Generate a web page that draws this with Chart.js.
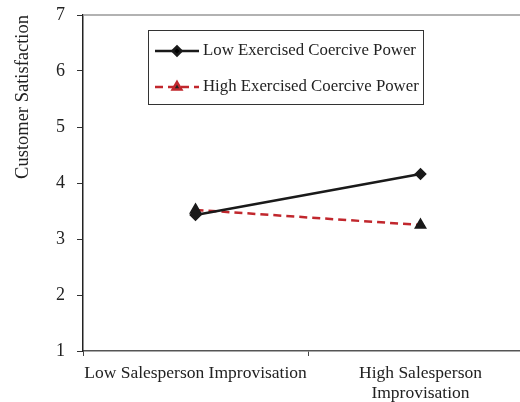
<!DOCTYPE html>
<html>
<head>
<meta charset="utf-8">
<script src="https://cdn.jsdelivr.net/npm/chart.js@4.4.1/dist/chart.umd.min.js"></script>
<style>
  html, body { margin: 0; padding: 0; background: #fff; overflow: hidden; }
  #wrap { width: 520px; height: 402px; overflow: hidden; }
</style>
</head>
<body>
<div id="wrap">
  <canvas id="myChart" width="545" height="402"></canvas>
</div>
<script>
// Data
const categories = ['Low Salesperson Improvisation', ['High Salesperson', 'Improvisation']];
const lowCoercive = [3.43, 4.16];
const highCoercive = [3.52, 3.25];
const seriesNames = ['Low Exercised Coercive Power', 'High Exercised Coercive Power'];
const yMin = 1;
const yMax = 7;

const serif = "'Liberation Serif', 'Times New Roman', serif";

// frame lines (top and right of plot area) + legend box inside the plot
const framePlugin = {
  id: 'frame',
  afterDraw(chart) {
    const ctx = chart.ctx;
    const a = chart.chartArea;
    ctx.save();
    ctx.strokeStyle = '#999';
    ctx.lineWidth = 1.5;
    ctx.beginPath();
    ctx.moveTo(a.left, a.top);
    ctx.lineTo(a.right, a.top);
    ctx.lineTo(a.right, a.bottom);
    ctx.stroke();

    // legend
    const bx = 148, by = 30, bw = 275, bh = 74;
    ctx.strokeStyle = '#333';
    ctx.lineWidth = 1;
    ctx.strokeRect(bx + 0.5, by + 0.5, bw, bh);
    const rows = [51, 87];
    chart.data.datasets.forEach((ds, i) => {
      const y = rows[i];
      ctx.strokeStyle = ds.borderColor;
      ctx.lineWidth = ds.borderWidth;
      ctx.setLineDash(ds.borderDash || []);
      ctx.beginPath();
      ctx.moveTo(155, y);
      ctx.lineTo(199, y);
      ctx.stroke();
      ctx.setLineDash([]);
      Chart.helpers.drawPoint(ctx, {
        pointStyle: ds.pointStyle,
        radius: ds.pointRadius,
        borderWidth: 1
      }, 177, y);
      ctx.fillStyle = '#222';
      ctx.font = '16.8px ' + serif;
      ctx.textBaseline = 'middle';
      ctx.fillText(ds.label, 203, y);
    });
    ctx.restore();
  }
};

const ctx = document.getElementById('myChart');

new Chart(ctx, {
  type: 'line',
  data: {
    labels: categories,
    datasets: [
      {
        label: seriesNames[0],
        data: lowCoercive,
        borderColor: '#1a1a1a',
        backgroundColor: '#1a1a1a',
        borderWidth: 2.5,
        pointStyle: 'rectRot',
        pointRadius: 4.5,
        pointBackgroundColor: '#1a1a1a',
        pointBorderColor: '#1a1a1a',
        tension: 0
      },
      {
        label: seriesNames[1],
        data: highCoercive,
        borderColor: '#c1272d',
        backgroundColor: '#1a1a1a',
        borderWidth: 2.5,
        borderDash: [8, 5],
        pointStyle: 'triangle',
        pointRadius: 5,
        pointBackgroundColor: '#1a1a1a',
        pointBorderColor: '#1a1a1a',
        tension: 0
      }
    ]
  },
  options: {
    responsive: false,
    animation: false,
    layout: {
      padding: { left: 0, top: 15, right: 12, bottom: 0 }
    },
    plugins: {
      legend: { display: false },
      tooltip: { enabled: false }
    },
    scales: {
      x: {
        type: 'category',
        offset: true,
        grid: {
          offset: true,
          drawOnChartArea: false,
          drawTicks: true,
          tickLength: 5,
          color: '#444'
        },
        border: { color: '#555', width: 1.5 },
        ticks: {
          color: '#222',
          font: { family: serif, size: 17.5, lineHeight: 1.15 },
          padding: 7,
          maxRotation: 0,
          autoSkip: false
        },
        afterFit(scale) {
          scale.height = 51;
        }
      },
      y: {
        min: yMin,
        max: yMax,
        grid: {
          drawOnChartArea: false,
          drawTicks: true,
          tickLength: 6,
          color: '#333'
        },
        border: { color: '#222', width: 1.5 },
        ticks: {
          stepSize: 1,
          color: '#222',
          padding: 12,
          font: { family: serif, size: 18 }
        },
        title: {
          display: true,
          text: 'Customer Satisfaction',
          align: 'end',
          color: '#222',
          font: { family: serif, size: 18.5 },
          padding: { top: 12, bottom: 0 }
        },
        afterFit(scale) {
          scale.width = 83;
          scale.paddingTop = 0;
          scale.paddingBottom = 0;
        }
      }
    }
  },
  plugins: [framePlugin]
});
</script>
</body>
</html>
